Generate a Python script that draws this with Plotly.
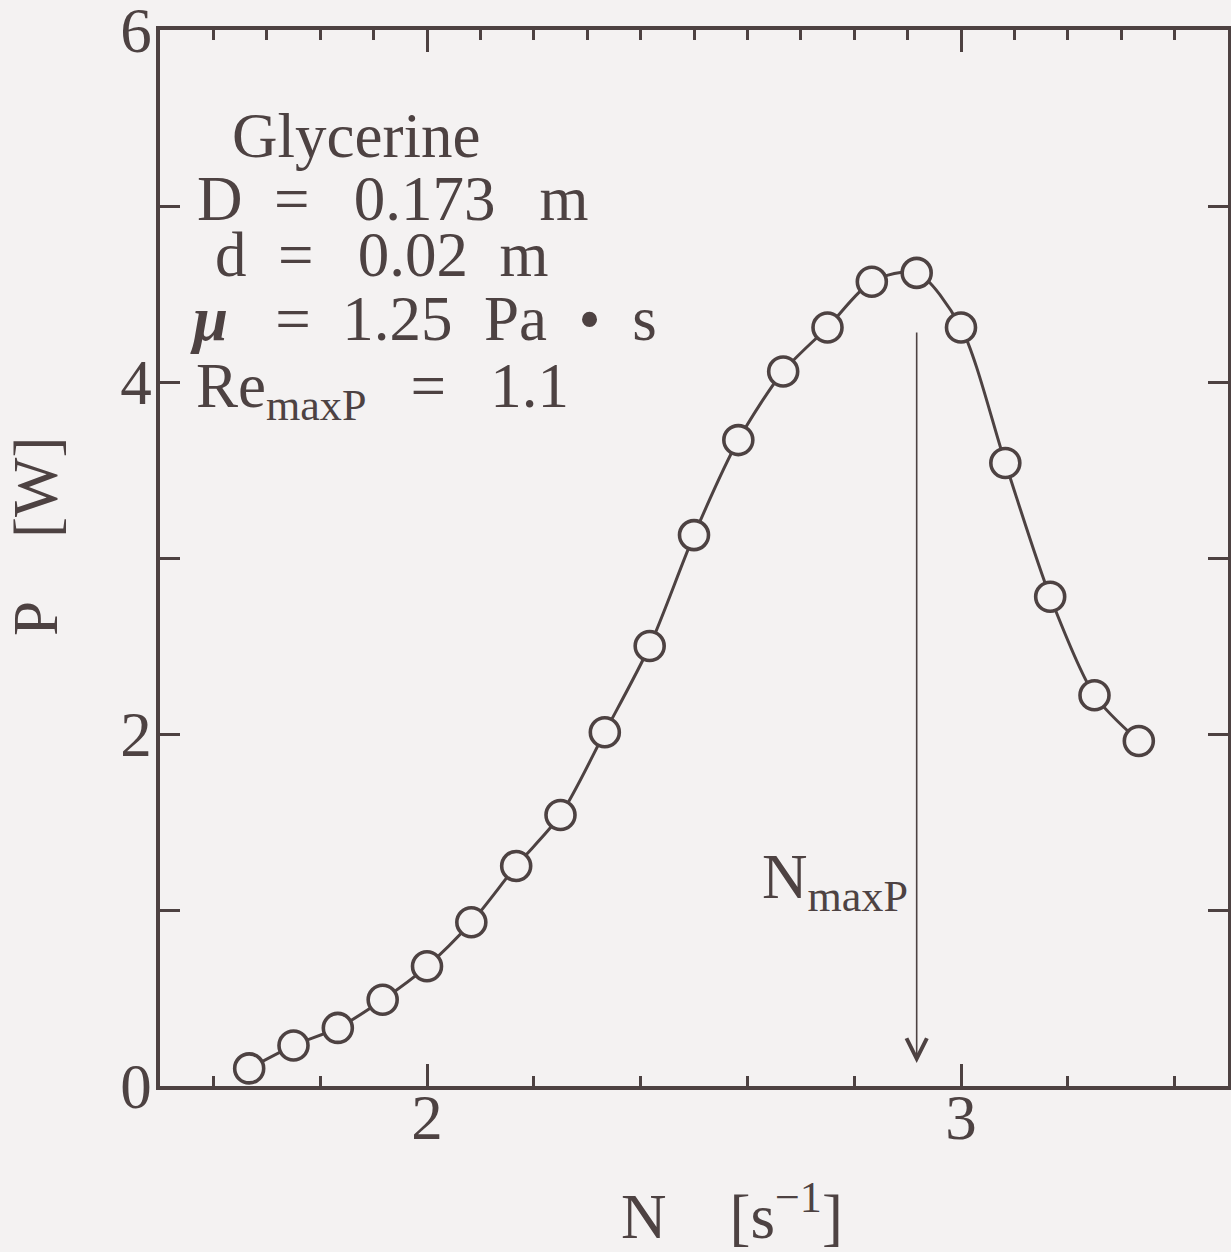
import plotly.graph_objects as go

# Data
N_vals = [1.667, 1.75, 1.833, 1.917, 2.0, 2.083, 2.167, 2.25, 2.333, 2.417, 2.5,
          2.583, 2.667, 2.75, 2.833, 2.917, 3.0, 3.083, 3.167, 3.25, 3.333]
P_vals = [0.10, 0.23, 0.33, 0.49, 0.68, 0.93, 1.25, 1.54, 2.01, 2.50, 3.13,
          3.67, 4.06, 4.31, 4.57, 4.62, 4.31, 3.54, 2.78, 2.22, 1.96]
y_tick_vals = [0, 1, 2, 3, 4, 5, 6]
y_tick_text = ["0", "", "2", "", "4", "", "6"]
N_maxP = 2.917

INK = "#4d4242"
BG = "#f4f2f2"
FONT = "Liberation Serif"
FS = 63

fig = go.Figure()
fig.add_trace(go.Scatter(
    x=N_vals, y=P_vals, mode="lines+markers",
    line=dict(color=INK, width=3, shape="spline", smoothing=0.8),
    marker=dict(symbol="circle", size=29, color=BG, line=dict(color=INK, width=3.6)),
    showlegend=False, hoverinfo="skip"))
# invisible trace for top axis
fig.add_trace(go.Scatter(x=[1.5, 3.5], y=[0, 0], xaxis="x2", mode="markers",
                         marker=dict(opacity=0), showlegend=False, hoverinfo="skip"))

fig.update_layout(
    width=1231, height=1252,
    margin=dict(l=160, r=3, t=30, b=166, autoexpand=False),
    paper_bgcolor=BG, plot_bgcolor=BG,
    font=dict(family=FONT, color=INK, size=FS),
    xaxis=dict(range=[1.5, 3.5], showgrid=False, zeroline=False, automargin=False,
               showline=True, linecolor=INK, linewidth=3.5,
               ticks="inside", tickcolor=INK, tickwidth=3, ticklen=22,
               tick0=0, dtick=1, ticklabelstandoff=-26,
               tickfont=dict(family=FONT, size=FS, color=INK),
               minor=dict(ticks="inside", dtick=0.2, tick0=0, ticklen=10,
                          tickcolor=INK, tickwidth=3)),
    xaxis2=dict(range=[1.5, 3.5], overlaying="x", side="top", showgrid=False,
                zeroline=False, showline=True, linecolor=INK, linewidth=3.5,
                automargin=False,
                ticks="inside", tickcolor=INK, tickwidth=3, ticklen=22,
                tick0=0, dtick=1, showticklabels=False,
                minor=dict(ticks="inside", dtick=0.1, tick0=0, ticklen=10,
                           tickcolor=INK, tickwidth=3)),
    yaxis=dict(range=[0, 6], showgrid=False, zeroline=False, automargin=False,
               showline=True, linecolor=INK, linewidth=3.5, mirror="ticks",
               ticks="inside", tickcolor=INK, tickwidth=3, ticklen=20,
               tickvals=y_tick_vals, ticktext=y_tick_text, ticklabelstandoff=-8,
               ticklabeloverflow="allow",
               tickfont=dict(family=FONT, size=FS, color=INK)),
)

SP = "&nbsp;&nbsp;"
SPW = "&nbsp;&nbsp;\u2009"

def txt(x, y, s, anchor="left"):
    fig.add_annotation(x=x, y=y, xref="x", yref="y", text=s, showarrow=False,
                       xanchor=anchor, yanchor="middle",
                       font=dict(family=FONT, size=FS, color=INK))

txt(1.632, 5.40, "Glycerine")
txt(1.565, 5.04, "D" + SP + "=" + SPW + "0.173" + SPW + "m")
txt(1.600, 4.72, "d" + SP + "=" + SPW + "0.02" + SP + "m")
txt(1.553, 4.36, "<b><i>μ</i></b>&nbsp;&nbsp;&nbsp;=" + SP + "1.25" + SP + "Pa&nbsp;&nbsp;•&nbsp;&nbsp;s")
txt(1.563, 3.95, "Re<sub>maxP</sub>" + SPW + "=" + SPW + "1.1")
txt(2.905, 1.16, "N<sub>maxP</sub>", anchor="right")

# N_maxP arrow
fig.add_annotation(x=N_maxP, y=0.13, ax=N_maxP, ay=4.29, xref="x", yref="y",
                   axref="x", ayref="y", text="", showarrow=True,
                   arrowhead=5, arrowsize=2.5, arrowwidth=1.6, arrowcolor=INK)

# axis titles
fig.add_annotation(x=(732 - 160) / (1228 - 160), y=-(1212 - 1086) / 1056,
                   xref="paper", yref="paper",
                   text="N&nbsp;&nbsp;&nbsp;&nbsp;[s<sup>−1</sup>]",
                   showarrow=False, xanchor="center", yanchor="middle",
                   font=dict(family=FONT, size=FS, color=INK))
fig.add_annotation(x=-(160 - 36) / 1068, y=(1086 - 537) / 1056,
                   xref="paper", yref="paper", text="P&nbsp;&nbsp;&nbsp;&nbsp;[W]",
                   textangle=-90, showarrow=False, xanchor="center", yanchor="middle",
                   font=dict(family=FONT, size=FS, color=INK))

fig.write_html("out.html")
